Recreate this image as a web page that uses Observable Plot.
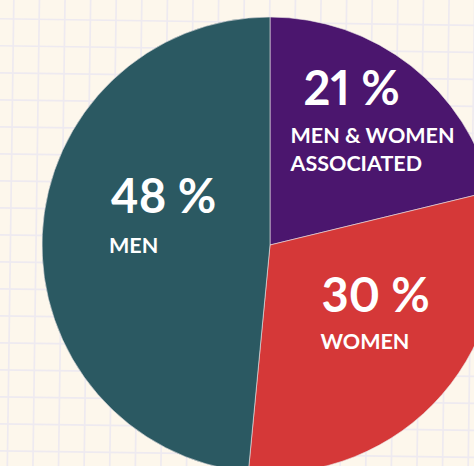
<!DOCTYPE html>
<html>
<head>
<meta charset="utf-8">
<script src="https://cdn.jsdelivr.net/npm/d3@7"></script>
<script src="https://cdn.jsdelivr.net/npm/@observablehq/plot@0.6"></script>
<style>
  html, body { margin: 0; padding: 0; background: #fdf7ec; overflow: hidden; }
  #chart svg { display: block; }
  #chart svg text { font-variant-numeric: proportional-nums; font-feature-settings: "pnum" 1; }
</style>
</head>
<body>
<div id="chart"></div>
<script>
// ---- data ----
const categories = ["Men & Women associated", "Women", "Men"];
const values = [21, 30, 48];
const labelLines = [["MEN & WOMEN", "ASSOCIATED"], ["WOMEN"], ["MEN"]];
const colors = ["#4b166e", "#d53838", "#2b5962"];

// ---- layout (not data) ----
const W = 474, H = 466;
const center = {x: 270, y: 245}, radius = 228;
const pctAnchors = [{x: 303, y: 89}, {x: 321, y: 296}, {x: 110, y: 197.5}];
const catAnchors = [{x: 290, y: 136}, {x: 320, y: 341.5}, {x: 108.5, y: 246}];
const catLineGap = 28;
const gridX = d3.range(10.1 - 25.6 * 2, W + 60, 25.6);
const gridY = d3.range(21.6 - 27 * 2, H + 60, 27);

const slices = d3.pie().sort(null).value(d => d.value)(
  categories.map((c, i) => ({category: c, value: values[i], color: colors[i]}))
);

const pctData = slices.map((s, i) => ({text: `${s.data.value} %`, x: pctAnchors[i].x, y: pctAnchors[i].y}));
const catData = slices.flatMap((s, i) =>
  labelLines[i].map((t, j) => ({text: t, x: catAnchors[i].x, y: catAnchors[i].y + j * catLineGap}))
);

function pieMark(index, scales) {
  const {x, y} = scales;
  const cx = x(center.x), cy = y(center.y);
  const r = x(center.x + radius) - x(center.x);
  const arc = d3.arc().innerRadius(0).outerRadius(r);
  const g = d3.create("svg:g").attr("aria-label", "pie").attr("transform", `translate(${cx},${cy})`);
  g.selectAll("path").data(slices).join("path")
    .attr("d", arc)
    .attr("fill", d => d.data.color)
    .attr("stroke", "#e9e4e6")
    .attr("stroke-width", 0.6);
  return g.node();
}

const chart = Plot.plot({
  width: W,
  height: H,
  margin: 0,
  style: {background: "#fdf7ec", overflow: "hidden"},
  x: {domain: [0, W], range: [0, W], axis: null},
  y: {domain: [0, H], range: [0, H], axis: null},
  marks: [
    Plot.ruleX(gridX, {x: d => d, y1: -40, y2: H + 40, stroke: "#eeeaf0", strokeWidth: 1.7}),
    Plot.ruleY(gridY, {y: d => d, x1: -40, x2: W + 40, stroke: "#eeeaf0", strokeWidth: 1.7}),
    pieMark,
    Plot.text(pctData, {x: "x", y: "y", text: "text", textAnchor: "start", fill: "white",
      fontSize: 47, fontWeight: 700, fontFamily: "Lato, sans-serif"}),
    Plot.text(catData, {x: "x", y: "y", text: "text", textAnchor: "start", fill: "white",
      fontSize: 21.5, fontWeight: 700, fontFamily: "Lato, sans-serif"})
  ]
});

d3.select(chart).selectAll('g[aria-label="rule"]').each(function() {
  const t = this.getAttribute("transform") || "";
  this.setAttribute("transform", `rotate(0.8,237,233) ${t}`);
});

document.getElementById("chart").appendChild(chart);
</script>
</body>
</html>
